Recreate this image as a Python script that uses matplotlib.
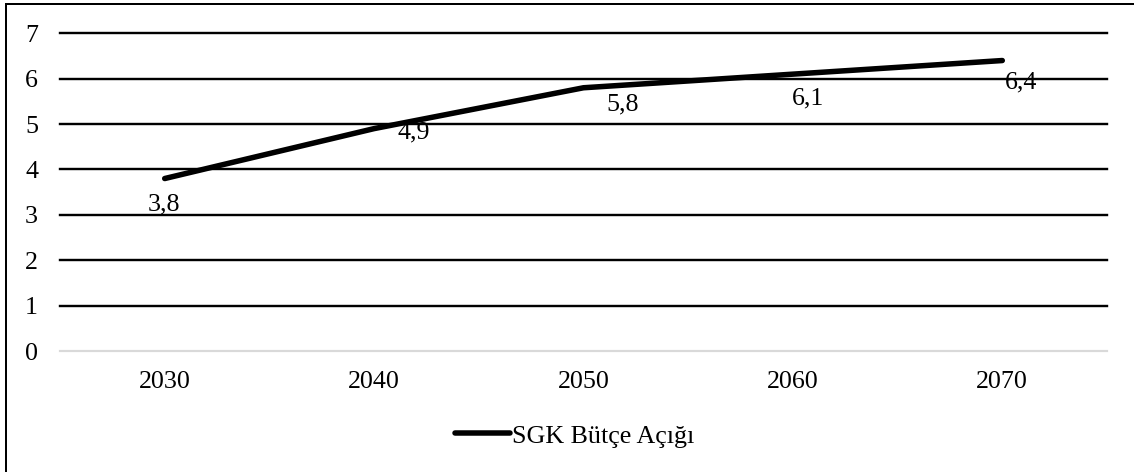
import matplotlib
matplotlib.use("Agg")
import matplotlib.pyplot as plt
from matplotlib.patches import Rectangle

years = ["2030", "2040", "2050", "2060", "2070"]
deficit = [3.8, 4.9, 5.8, 6.1, 6.4]
value_labels = ["3,8", "4,9", "5,8", "6,1", "6,4"]
series_name = "SGK Bütçe Açığı"
y_ticks = [0, 1, 2, 3, 4, 5, 6, 7]

# label offsets in points (dpi=72 so points == pixels)
label_offsets = [(-1, -26), (40, -4), (39, -17), (15, -24), (19, -22)]

plt.rcParams["font.family"] = ["Liberation Serif", "DejaVu Serif"]
FS = 26

W, H = 1134, 472
fig = plt.figure(figsize=(W / 72, H / 72), dpi=72)
ax = fig.add_axes([60 / W, (H - 351) / H, 1047 / W, (351 - 33.3) / H])

x = list(range(len(years)))
for t in y_ticks:
    if t == 0:
        ax.axhline(t, color="#d9d9d9", lw=2.2, zorder=1, clip_on=False)
    else:
        ax.axhline(t, color="black", lw=2.4, zorder=1, clip_on=False)

ax.plot(x, deficit, color="black", lw=5.5, solid_capstyle="round",
        solid_joinstyle="round", label=series_name, zorder=3)

for xi, yi, txt, off in zip(x, deficit, value_labels, label_offsets):
    ax.annotate(txt, (xi, yi), xytext=off, textcoords="offset points",
                ha="center", va="center", fontsize=FS, zorder=4)

ax.set_xlim(-0.5, len(years) - 0.5)
ax.set_ylim(0, 7)
ax.set_xticks(x)
ax.set_xticklabels(years)
ax.set_yticks(y_ticks)
ax.tick_params(axis="both", length=0, labelsize=FS)
ax.tick_params(axis="x", pad=20)
ax.tick_params(axis="y", pad=22)
for s in ax.spines.values():
    s.set_visible(False)

leg = ax.legend(loc="center", bbox_to_anchor=(575 / W, 1 - 436 / H),
                bbox_transform=fig.transFigure, frameon=False, fontsize=FS,
                handlelength=2.1, handletextpad=0.1)

fig.patches.append(Rectangle((6 / W, -0.1), 1.2, 1 - 4 / H + 0.1, fill=False,
                             lw=2, edgecolor="black", transform=fig.transFigure))

fig.savefig("out.png", dpi=72)
